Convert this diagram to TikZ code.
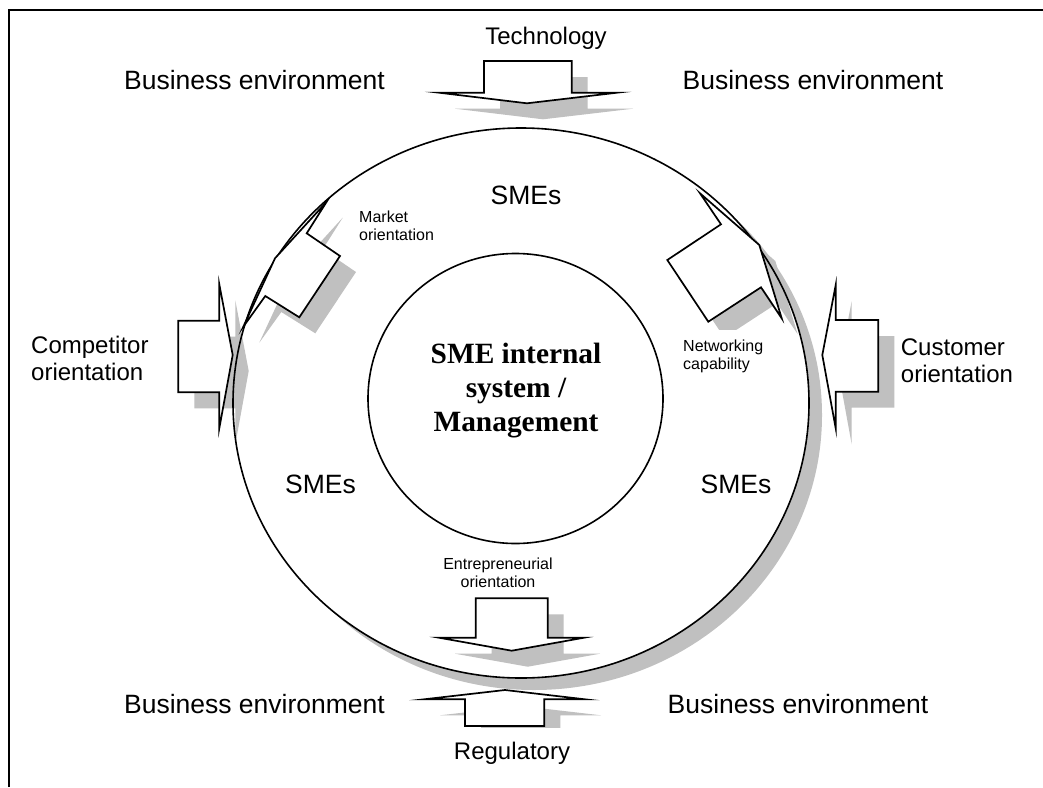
\documentclass[tikz,border=0pt]{standalone}
\usepackage{fontspec}
\setmainfont{Liberation Sans}
\newfontfamily\serifface{Liberation Serif}
\definecolor{shadowgray}{RGB}{192,192,192}
\begin{document}
\begin{tikzpicture}[x=1pt,y=-1pt,
  body/.style={draw=black, line width=1.7pt, fill=white, line join=miter, miter limit=20},
  shade/.style={fill=shadowgray, draw=none},
  ring/.style={draw=black, line width=1.6pt},
  big/.style={inner sep=0pt, font=\fontsize{26.5}{30}\selectfont},
  mid/.style={inner sep=0pt, font=\fontsize{24}{27}\selectfont, align=left},
  small/.style={inner sep=0pt, font=\fontsize{16}{18}\selectfont},
  core/.style={inner sep=0pt, align=center, font=\serifface\bfseries\fontsize{29.4}{34}\selectfont}]
\useasboundingbox (0,0) rectangle (1043,787);
\fill[white] (0,0) rectangle (1043,787);
% frame
\draw[line width=2pt] (9,787) -- (9,10) -- (1043,10);

% outer ring shadow and fill
\fill[shadowgray] (534,415) ellipse [x radius=288pt, y radius=275pt];
\fill[white] (521,403) ellipse [x radius=288pt, y radius=275pt];

% arrow shapes as reusable paths
\def\techarrow{(484,61) -- (571.7,61) -- (571.7,92.7) -- (617,92.7) -- (527,103.3) -- (439,92.7) -- (484,92.7) -- cycle}
\def\entarrow{(475.7,598.3) -- (547.7,598.3) -- (547.7,637.7) -- (584,637.7) -- (511.7,650.7) -- (439,637.7) -- (475.7,637.7) -- cycle}
\def\regarrow{(465,726) -- (544.3,726) -- (544.3,699.3) -- (585,699.3) -- (505,690) -- (424,699.3) -- (465,699.3) -- cycle}
\def\comparrow{(178.3,320.7) -- (219.3,320.7) -- (219.3,284.3) -- (232.7,355) -- (219.3,428.3) -- (219.3,392.3) -- (178.3,392.3) -- cycle}
\def\custarrow{(878.3,320) -- (835.7,320) -- (835.7,285) -- (822.3,355) -- (835.7,428.3) -- (835.7,391.7) -- (878.3,391.7) -- cycle}
\def\mktarrow{(340,256) -- (306.7,233.3) -- (326.7,201.7) -- (275,258.3) -- (243.3,326.7) -- (265.3,296) -- (299.3,317.3) -- cycle}
\def\netarrow{(700,193.3) -- (721,224.3) -- (667.3,260) -- (708.3,321.7) -- (761,287.3) -- (781.7,318.3) -- (759.3,245) -- cycle}

% shadows
\begin{scope}[shift={(16,16)}]
  \fill[shade] \techarrow;
  \fill[shade] \entarrow;
  \fill[shade] \comparrow;
  \fill[shade] \custarrow;
  \fill[shade] \mktarrow;
  \fill[shade] \netarrow;
\end{scope}
\begin{scope}
  \clip (0,0) rectangle (1043,727);
  \fill[shade, shift={(16,16)}] \regarrow;
\end{scope}

% rings
\draw[ring] (521,403) ellipse [x radius=288pt, y radius=275pt];
\draw[ring, fill=white] (515.5,398.5) ellipse [x radius=147.5pt, y radius=145pt];

% arrows
\draw[body] \techarrow;
\draw[body] \entarrow;
\draw[body] \regarrow;
\draw[body] \comparrow;
\draw[body] \custarrow;
\draw[body] \mktarrow;
\draw[body] \netarrow;

% labels
\node[big] (bizTL) at (254.5,80) {Business environment};
\node[big] (bizTR) at (813,80) {Business environment};
\node[big] (bizBL) at (254.5,704.5) {Business environment};
\node[big] (bizBR) at (798,704.5) {Business environment};
\node[mid] (tech) at (546,38.7) {Technology};
\node[mid] (reg) at (512,753) {Regulatory};
\node[mid, anchor=west] (comp) at (31,358) {Competitor\\orientation};
\node[mid, anchor=west] (cust) at (900.7,360.5) {Customer\\orientation};
\node[big] (smeT) at (526,195) {SMEs};
\node[big] (smeL) at (320.5,484) {SMEs};
\node[big] (smeR) at (736,484) {SMEs};
\node[small, align=left, anchor=west] (mkt) at (359,226) {Market\\orientation};
\node[small, align=left, anchor=west, fill=white, inner ysep=10pt, inner xsep=2pt] (net) at (681,356) {Networking\\capability};
\node[small, align=center] (ent) at (498,573) {Entrepreneurial\\orientation};
\node[core] (core) at (516,391) {SME internal\\system /\\Management};
\end{tikzpicture}
\end{document}
